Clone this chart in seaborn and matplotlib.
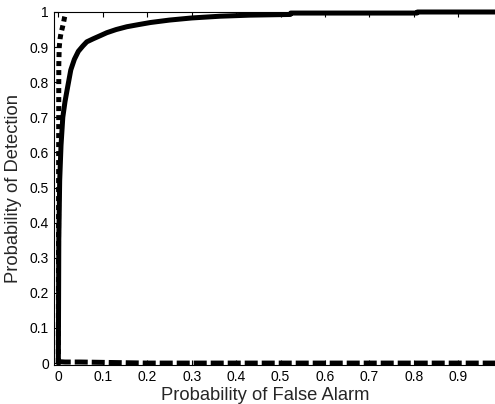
import matplotlib
matplotlib.use("Agg")
import matplotlib.pyplot as plt
import seaborn as sns
import pandas as pd

# ROC curves: probability of false alarm vs. probability of detection
solid_pfa = [0.0, 0.001, 0.003, 0.006, 0.010, 0.015, 0.020, 0.028, 0.036, 0.045,
             0.055, 0.064, 0.079, 0.095, 0.109, 0.130, 0.154, 0.180, 0.207, 0.250,
             0.300, 0.364, 0.430, 0.522, 0.523, 0.700, 0.807, 0.808, 1.0]
solid_pd = [0.0, 0.35, 0.52, 0.62, 0.70, 0.745, 0.78, 0.835, 0.865, 0.888,
            0.903, 0.915, 0.924, 0.933, 0.941, 0.950, 0.958, 0.964, 0.970, 0.977,
            0.983, 0.988, 0.991, 0.993, 0.997, 0.997, 0.997, 1.0, 1.0]

dotted_pfa = [0.0, 0.0005, 0.001, 0.002, 0.004, 0.006, 0.009, 0.012, 0.014, 0.016]
dotted_pd = [0.0, 0.45, 0.85, 0.90, 0.925, 0.940, 0.955, 0.972, 0.985, 0.995]

dashed_pfa = [0.0, 0.003, 0.015, 0.050, 0.100, 0.200, 1.0]
dashed_pd = [0.0, 0.004, 0.003, 0.003, 0.002, 0.0, 0.0]

xticks = [0, 0.1, 0.2, 0.3, 0.4, 0.5, 0.6, 0.7, 0.8, 0.9]
yticks = [0, 0.1, 0.2, 0.3, 0.4, 0.5, 0.6, 0.7, 0.8, 0.9, 1]

sns.set_style("ticks")
plt.rcParams["font.family"] = ["Liberation Sans", "DejaVu Sans"]

fig = plt.figure(figsize=(4.95, 4.04), dpi=100)
ax = fig.add_axes([0.1089, 0.0965, 0.9067, 0.8738])

lw = 3.6
curves = [
    (solid_pfa, solid_pd, "-"),
    (dotted_pfa, dotted_pd, (0, (1, 0.8))),
    (dashed_pfa, dashed_pd, (0, (2.6, 0.8))),
]
for xs, ys, ls in curves:
    df = pd.DataFrame({"pfa": xs, "pd": ys})
    sns.lineplot(data=df, x="pfa", y="pd", ax=ax, color="black", lw=lw,
                 linestyle=ls, sort=False, estimator=None, clip_on=False)

ax.set_xlim(-0.01, 1.0)
ax.set_ylim(-0.0055, 1.0)
ax.set_xticks(xticks)
ax.set_xticklabels([f"{t:g}" for t in xticks])
ax.set_yticks(yticks)
ax.set_yticklabels([f"{t:g}" for t in yticks])
ax.tick_params(direction="in", length=3.5, width=0.8, labelsize=10,
               top=True, right=True, pad=3.5, colors="black")

for side in ["left", "top", "bottom"]:
    ax.spines[side].set_visible(True)
    ax.spines[side].set_linewidth(0.8)
    ax.spines[side].set_color("black")
ax.spines["right"].set_visible(False)

ax.set_xlabel("Probability of False Alarm", fontsize=13.2)
ax.set_ylabel("Probability of Detection", fontsize=13.2)
ax.xaxis.set_label_coords(0.47, -0.062)
ax.yaxis.set_label_coords(-0.072, 0.5)

fig.savefig("out.png", dpi=100)
